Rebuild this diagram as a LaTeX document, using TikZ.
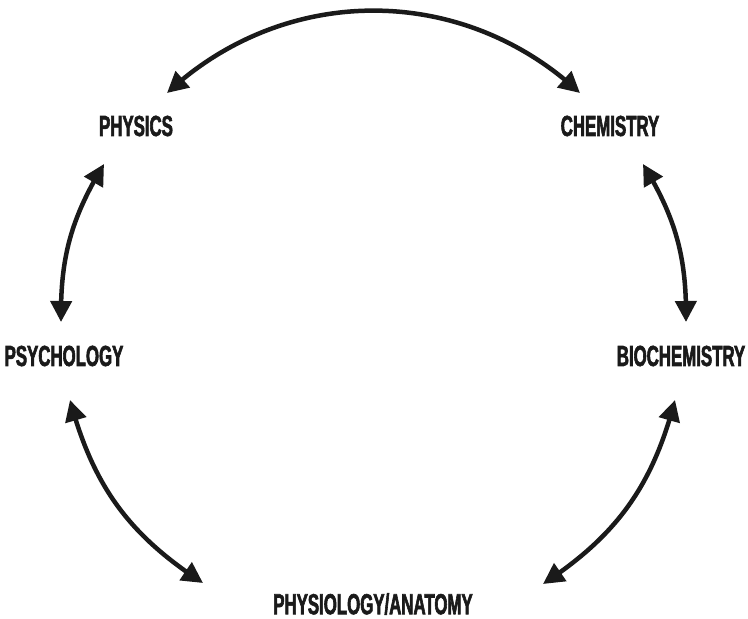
\documentclass[tikz,border=0pt]{standalone}
\usepackage{fontspec}
\newfontfamily\labelfont[FakeStretch=0.58,FakeBold=2]{Liberation Sans}
\usetikzlibrary{arrows.meta,bending}
\definecolor{ink}{HTML}{1A1A1A}
\tikzset{
  lbl/.style={font=\labelfont\bfseries\fontsize{29}{30}\selectfont, text=ink, inner sep=0pt, anchor=center},
  link/.style={ink, line width=4.5pt, {Triangle[length=21pt,width=21pt,flex]}-{Triangle[length=21pt,width=21pt,flex]}}
}
\begin{document}
\begin{tikzpicture}[x=1pt,y=1pt]
\useasboundingbox[fill=white] (0,0) rectangle (748,619);
\node[lbl] (phys) at (136,493) {PHYSICS};
\node[lbl] (chem) at (610,493) {CHEMISTRY};
\node[lbl] (psych) at (64,263) {PSYCHOLOGY};
\node[lbl] (bio) at (681,263) {BIOCHEMISTRY};
\node[lbl] (anat) at (373,15) {PHYSIOLOGY/ANATOMY};
% arrow end points
\coordinate (a1) at (167,526);
\coordinate (a2) at (580,526);
\coordinate (b1) at (643,455);
\coordinate (b2) at (686,297);
\coordinate (c1) at (675,219);
\coordinate (c2) at (543,35);
\coordinate (d1) at (203,36);
\coordinate (d2) at (70,219);
\coordinate (e1) at (61,297);
\coordinate (e2) at (104,455);
\draw[link] (a1) to[bend left=43] (a2);
\draw[link] (b1) to[bend left=16] (b2);
\draw[link] (c1) to[bend left=21] (c2);
\draw[link] (d1) to[bend left=21] (d2);
\draw[link] (e1) to[bend left=16] (e2);
\end{tikzpicture}
\end{document}
